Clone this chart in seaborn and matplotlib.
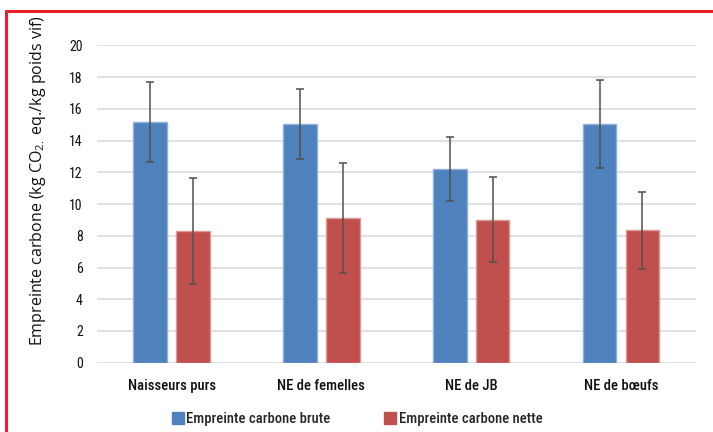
import pandas as pd
import seaborn as sns
import matplotlib.pyplot as plt
from matplotlib.lines import Line2D
from matplotlib import font_manager

# data
categories = ["Naisseurs purs", "NE de femelles", "NE de JB", "NE de bœufs"]
series = ["Empreinte carbone brute", "Empreinte carbone nette"]
brute = [15.15, 15.05, 12.2, 15.05]
nette = [8.3, 9.15, 9.0, 8.35]
err_brute = [2.52, 2.22, 2.03, 2.8]
err_nette = [3.33, 3.47, 2.68, 2.43]
yticks = [0, 2, 4, 6, 8, 10, 12, 14, 16, 18, 20]

colors = ["#4F81BD", "#C0504D"]
edges = ["#8FB0DA", "#DB9A98"]

sns.set_theme(style="white")

# narrow font if there is one
installed = {f.name for f in font_manager.fontManager.ttflist}
narrow = "DejaVu Sans"
for name in ["Liberation Sans Narrow", "Roboto Condensed", "Open Sans Condensed", "Roboto"]:
    if name in installed:
        narrow = name
        break
plt.rcParams["font.family"] = [narrow, "DejaVu Sans"]

df = pd.DataFrame({
    "cat": categories * 2,
    "serie": [series[0]] * 4 + [series[1]] * 4,
    "val": brute + nette,
})

fig = plt.figure(figsize=(7.13, 4.32), dpi=100)
ax = fig.add_axes([0.1356, 0.1604, 0.8404, 0.7343])
ax.set_axisbelow(True)
ax.yaxis.grid(True, color="#D9D9D9", linewidth=1.1)

sns.barplot(data=df, x="cat", y="val", hue="serie", hue_order=series,
            palette=colors, saturation=1, width=0.572, gap=0.217, errorbar=None,
            legend=False, ax=ax, linewidth=1.0)

errs = [err_brute, err_nette]
vals = [brute, nette]
bar_conts = list(ax.containers)
for i, cont in enumerate(bar_conts):
    xs = []
    for bar in cont.patches:
        bar.set_edgecolor(edges[i])
        xs.append(bar.get_x() + bar.get_width() / 2)
    ax.errorbar(xs, vals[i], yerr=errs[i], fmt="none", ecolor="#505050",
                elinewidth=1.1, capsize=2.6, capthick=1.1, zorder=5)

ax.set_ylim(0, 20)
ax.set_yticks(yticks)
ax.set_xlim(-0.5, 3.5)
for s in ax.spines.values():
    s.set_visible(False)
ax.tick_params(axis="both", length=0, labelsize=10, colors="#111111")
ax.tick_params(axis="y", pad=10)
ax.tick_params(axis="x", pad=12, labelsize=10.5)
for lab in ax.get_xticklabels():
    lab.set_fontweight("medium")
ax.set_xlabel("")
ax.set_ylabel("Empreinte carbone (kg CO$_{\\mathregular{2.}}$ eq./kg poids vif)",
              fontsize=11.5, family=["Open Sans", "DejaVu Sans"], color="#111111")
ax.yaxis.set_label_coords(-0.082, 0.573)

handles = [Line2D([], [], marker="s", linestyle="", markersize=8,
                  markerfacecolor=c, markeredgecolor=c) for c in colors]
fig.legend(handles, series, loc="center", bbox_to_anchor=(0.5, 1 - 419 / 432),
           ncol=2, frameon=False, handletextpad=0.1,
           columnspacing=3.6, handlelength=1.0,
           prop={"size": 10.5, "weight": "medium"})

# red frame on top and left
fig.add_artist(Line2D([0.008, 1.0], [1 - 11 / 432, 1 - 11 / 432],
                      transform=fig.transFigure, color="#E8202E", linewidth=2.2))
fig.add_artist(Line2D([0.008, 0.008], [0, 1 - 11 / 432],
                      transform=fig.transFigure, color="#E8202E", linewidth=2.2))

fig.savefig("out.png", dpi=100)
